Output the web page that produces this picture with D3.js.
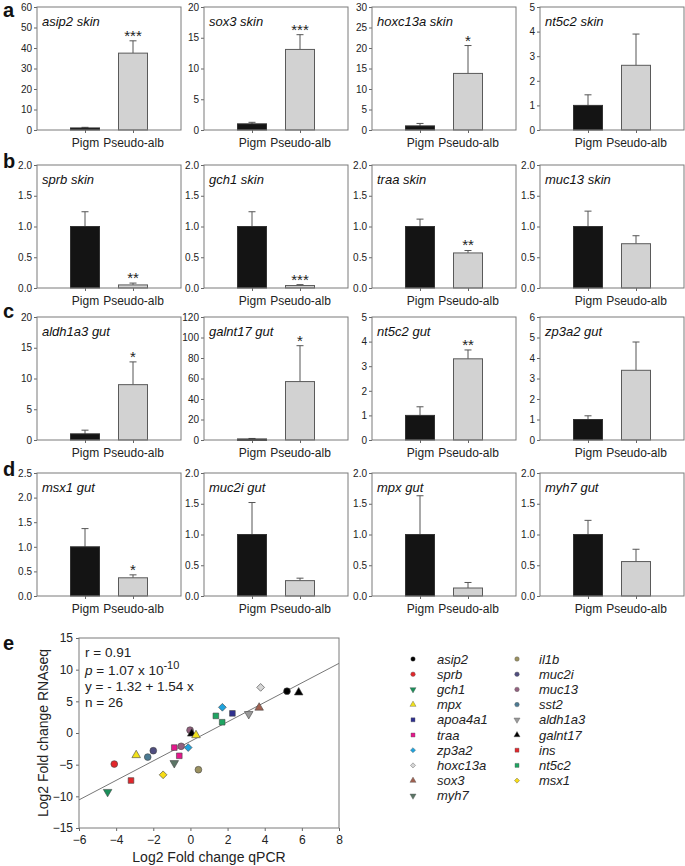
<!DOCTYPE html>
<html><head><meta charset="utf-8">
<script src="https://cdn.jsdelivr.net/npm/d3@7"></script>
<style>
body{margin:0;background:#fff;}
svg{display:block;font-family:"Liberation Sans",Arial,sans-serif;}
</style></head>
<body>
<svg id="c" width="685" height="866"></svg>
<script>
// ---------- data: bar panels (rows a-d) ----------
const groups = ["Pigm", "Pseudo-alb"];
const panelTitles = [
  "asip2 skin","sox3 skin","hoxc13a skin","nt5c2 skin",
  "sprb skin","gch1 skin","traa skin","muc13 skin",
  "aldh1a3 gut","galnt17 gut","nt5c2 gut","zp3a2 gut",
  "msx1 gut","muc2i gut","mpx gut","myh7 gut"];
const yMax  = [60,20,30,5, 2,2,2,2, 20,120,5,6, 2.5,2,2,2];
const yStep = [10,5,5,1, 0.5,0.5,0.5,0.5, 5,20,1,1, 0.5,0.5,0.5,0.5];
const pigmMean   = [1,1,1,1, 1,1,1,1, 1,1,1,1, 1,1,1,1];
const pigmSE     = [0.3,0.25,0.6,0.43, 0.24,0.24,0.12,0.25, 0.6,0.5,0.35,0.18, 0.37,0.52,0.63,0.23];
const pseudoMean = [37.5,13.1,13.8,2.63, 0.05,0.04,0.57,0.72, 9.0,57,3.3,3.4, 0.37,0.25,0.13,0.56];
const pseudoSE   = [6.0,2.4,6.8,1.27, 0.03,0.015,0.04,0.13, 3.7,35,0.36,1.38, 0.06,0.04,0.09,0.2];
const signif     = ["***","***","*","", "**","***","**","", "*","*","**","", "*","","",""];
const rowLetters = ["a","b","c","d"];

// ---------- data: scatter (panel e) ----------
const pointGene = ["asip2","galnt17","hoxc13a","sox3","aldh1a3","apoa4a1","zp3a2","nt5c2","nt5c2",
  "muc13","galnt17","mpx","muc13","traa","traa","zp3a2","myh7","il1b","msx1","muc2i","sst2","mpx",
  "sprb","ins","gch1"];
const pointX = [5.2,5.83,3.78,3.7,3.14,2.26,1.72,1.37,1.71, -0.02,0.07,0.3,-0.5,-0.87,-0.6,-0.12,-0.87,0.43,-1.47,-2.0,-2.3,-2.92, -4.1,-3.2,-4.46];
const pointY = [6.6,6.4,7.2,4.0,3.0,3.1,4.06,2.7,1.7, 0.45,-0.1,-0.35,-2.1,-2.3,-3.6,-2.3,-4.75,-5.8,-6.6,-2.8,-3.8,-3.5, -4.9,-7.5,-9.3];
const legendGenes  = ["asip2","sprb","gch1","mpx","apoa4a1","traa","zp3a2","hoxc13a","sox3","myh7",
                      "il1b","muc2i","muc13","sst2","aldh1a3","galnt17","ins","nt5c2","msx1"];
const legendShapes = ["circle","circle","down","up","square","square","diamond","diamond","up","down",
                      "circle","circle","circle","circle","down","up","square","square","diamond"];
const legendColors = ["#000000","#e3262b","#1b8f5a","#f2e21b","#2e2f8f","#e5188c","#1fa3dd","#d6d6d6","#a0604f","#5b7566",
                      "#9b9160","#4f4d7f","#93607e","#4b7a92","#9a9a9a","#000000","#e3262b","#1ea562","#f7dc16"];
const statLines = ["r = 0.91", "p = 1.07 x 10-10", "y = - 1.32 + 1.54 x", "n = 26"];
const regIntercept = -1.32, regSlope = 1.54;
const xTicksE = [-6,-4,-2,0,2,4,6,8];
const yTicksE = [-15,-10,-5,0,5,10,15];

// ---------- drawing ----------
const svg = d3.select("#c");
const rowTops = [7,165,317,473];
const colLefts = [37,204,372,540];
const pw = 144, ph = 123;
const barW = 29;

panelTitles.forEach((title, i) => {
  const r = Math.floor(i/4), c = i%4;
  const g = svg.append("g").attr("transform", `translate(${colLefts[c]},${rowTops[r]})`);
  const x = d3.scalePoint().domain(groups).range([0,pw]).padding(1);
  const y = d3.scaleLinear().domain([0,yMax[i]]).range([ph,0]);
  const ticks = d3.range(0, yMax[i] + yStep[i]/2, yStep[i]);
  const fmt = yStep[i] < 1 ? d3.format(".1f") : d3.format("d");
  const ya = g.append("g").call(d3.axisLeft(y).tickValues(ticks).tickFormat(fmt).tickSize(3).tickPadding(2));
  ya.select(".domain").remove();
  ya.selectAll("line").attr("stroke","#666");
  ya.selectAll("text").attr("font-size",10).attr("fill","#222").attr("font-family","Liberation Sans, Arial, sans-serif");
  const xa = g.append("g").attr("transform",`translate(0,${ph})`).call(d3.axisBottom(x).tickSize(3).tickPadding(5));
  xa.select(".domain").remove();
  xa.selectAll("line").attr("stroke","#666");
  xa.selectAll("text").attr("font-size",12).attr("fill","#222").attr("font-family","Liberation Sans, Arial, sans-serif");

  const means = [pigmMean[i], pseudoMean[i]];
  const ses = [pigmSE[i], pseudoSE[i]];
  const fills = ["#141414", "#d2d2d2"];
  const strokes = ["#333", "#5a5a5a"];
  groups.forEach((grp, k) => {
    const cx = x(grp);
    const top = y(means[k] + ses[k]);
    g.append("line").attr("x1",cx).attr("x2",cx).attr("y1",y(means[k])).attr("y2",top).attr("stroke","#555").attr("stroke-width",1);
    g.append("line").attr("x1",cx-3.5).attr("x2",cx+3.5).attr("y1",top).attr("y2",top).attr("stroke","#555").attr("stroke-width",1);
    g.append("rect").attr("x",cx-barW/2).attr("y",y(means[k])).attr("width",barW)
      .attr("height",Math.max(1.5, ph - y(means[k]))).attr("fill",fills[k]).attr("stroke",strokes[k]).attr("stroke-width",1);
  });
  if (signif[i]) {
    g.append("text").attr("x",x(groups[1])).attr("y",y(pseudoMean[i]+pseudoSE[i]) + 0)
      .attr("text-anchor","middle").attr("font-size",15).attr("fill","#222").text(signif[i]);
  }
  g.append("rect").attr("x",0).attr("y",0).attr("width",pw).attr("height",ph)
    .attr("fill","none").attr("stroke","#7a7a7a").attr("stroke-width",1);
  g.append("text").attr("x",5).attr("y",19).attr("font-size",13).attr("font-style","italic").attr("fill","#111").text(title);
});

const letterY = [17,168,318,476];
rowLetters.forEach((l, r) => {
  svg.append("text").attr("x",3).attr("y",letterY[r]).attr("font-size",20).attr("font-weight","bold").attr("fill","#111").text(l);
});

// ---------- panel e ----------
const eL = 79, eT = 638, eW = 260, eH = 190;
const ge = svg.append("g").attr("transform",`translate(${eL},${eT})`);
const xe = d3.scaleLinear().domain([-6,8]).range([0,eW]);
const ye = d3.scaleLinear().domain([-15,15]).range([eH,0]);
const xae = ge.append("g").attr("transform",`translate(0,${eH})`).call(d3.axisBottom(xe).tickValues(xTicksE).tickSize(3).tickPadding(4));
xae.select(".domain").remove();
xae.selectAll("line").attr("stroke","#666");
xae.selectAll("text").attr("font-size",12).attr("fill","#222").attr("font-family","Liberation Sans, Arial, sans-serif");
const yae = ge.append("g").call(d3.axisLeft(ye).tickValues(yTicksE).tickSize(3).tickPadding(3));
yae.select(".domain").remove();
yae.selectAll("line").attr("stroke","#666");
yae.selectAll("text").attr("font-size",12).attr("fill","#222").attr("font-family","Liberation Sans, Arial, sans-serif");

ge.append("line").attr("x1",xe(-6)).attr("y1",ye(regIntercept+regSlope*-6))
  .attr("x2",xe(8)).attr("y2",ye(regIntercept+regSlope*8)).attr("stroke","#777").attr("stroke-width",1);

const shapeMap = {circle:d3.symbolCircle, square:d3.symbolSquare, diamond:d3.symbolSquare, up:d3.symbolTriangle, down:d3.symbolTriangle};
function sym(shape, size){ return d3.symbol().type(shapeMap[shape]).size(size)(); }
function rot(shape){ return shape==="down" ? " rotate(180)" : shape==="diamond" ? " rotate(45)" : ""; }
pointGene.forEach((gname, j) => {
  const li = legendGenes.indexOf(gname);
  const shape = legendShapes[li];
  const sz = shape==="diamond" ? 30 : shape==="square" ? 32 : shape==="circle" ? 36 : 32;
  ge.append("path").attr("d", sym(shape, sz))
    .attr("transform", `translate(${xe(pointX[j])},${ye(pointY[j])})${rot(shape)}`)
    .attr("fill", legendColors[li]).attr("stroke","#444").attr("stroke-width",0.6);
});
ge.append("rect").attr("x",0).attr("y",0).attr("width",eW).attr("height",eH)
  .attr("fill","none").attr("stroke","#7a7a7a").attr("stroke-width",1);

// stats text
const st = ge.append("g").attr("font-size",13.5).attr("fill","#222");
st.append("text").attr("x",6).attr("y",19).text(statLines[0]);
const pt = st.append("text").attr("x",6).attr("y",37);
pt.append("tspan").attr("font-style","italic").text("p");
pt.append("tspan").text(" = 1.07 x 10");
pt.append("tspan").attr("dy",-6).attr("font-size",11).text("-10");
st.append("text").attr("x",6).attr("y",53).text(statLines[2]);
st.append("text").attr("x",6).attr("y",68.8).text(statLines[3]);

// axis titles
svg.append("text").attr("x",eL+eW/2).attr("y",862).attr("text-anchor","middle").attr("font-size",14).attr("fill","#222").text("Log2 Fold change qPCR");
svg.append("text").attr("transform",`translate(48,${eT+eH/2}) rotate(-90)`).attr("text-anchor","middle").attr("font-size",14).attr("fill","#222").text("Log2 Fold change RNAseq");
svg.append("text").attr("x",3).attr("y",650).attr("font-size",20).attr("font-weight","bold").attr("fill","#111").text("e");

// legend
const lg = svg.append("g");
legendGenes.forEach((gname, k) => {
  const col = k < 10 ? 0 : 1, row = k < 10 ? k : k-10;
  const sx = col===0 ? 413 : 517, tx = col===0 ? 437 : 539;
  const yy = 659 + row*15.2;
  lg.append("path").attr("d", sym(legendShapes[k], legendShapes[k]==="diamond" ? 13 : 16))
    .attr("transform", `translate(${sx},${yy})${rot(legendShapes[k])}`)
    .attr("fill", legendColors[k]).attr("stroke","#555").attr("stroke-width",0.4);
  lg.append("text").attr("x",tx).attr("y",yy+4.5).attr("font-size",13).attr("font-style","italic").attr("fill","#222").text(gname);
});
</script>
</body></html>
